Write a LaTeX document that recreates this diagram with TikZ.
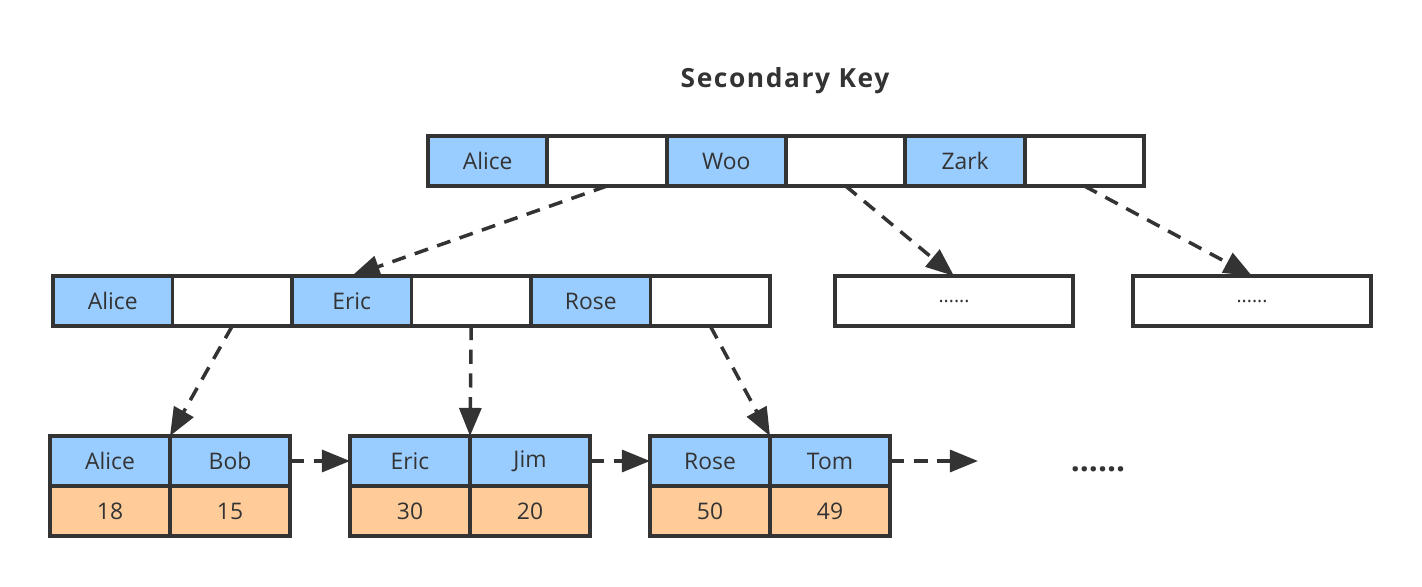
\documentclass[tikz,border=0pt]{standalone}
\usepackage{fontspec}
\setmainfont{Open Sans}
\usetikzlibrary{arrows.meta,positioning}
\definecolor{line}{HTML}{333333}
\definecolor{keyblue}{HTML}{99CCFF}
\definecolor{valorange}{HTML}{FFCC99}

\begin{document}
\begin{tikzpicture}[
	cell/.style={draw=line, line width=2.2pt, minimum width=2.39cm, minimum height=1cm, inner sep=0pt, outer sep=0pt, text=line, font=\fontsize{13}{15}\selectfont},
	link/.style={draw=line, line width=2pt, dash pattern=on 8pt off 5.5pt, -{Triangle[length=16pt,width=12.5pt]}}
]
	\useasboundingbox (0,0) rectangle (28.44,11.72);
	\node[text=line, font=\fontsize{15}{18}\selectfont\bfseries\addfontfeature{LetterSpace=6}] (title) at (15.7,10.1) {Secondary Key};
	% root
	\foreach \n/\t/\f [count=\i from 0] in {t1/Alice/keyblue, t2//white, t3/Woo/keyblue, t4//white, t5/Zark/keyblue, t6//white}
		\node[cell, fill=\f, minimum width=2.387cm] (\n) at (9.753+2.387*\i, 8.5) {\t};
	% inner level
	\foreach \n/\t/\f [count=\i from 0] in {m1/Alice/keyblue, m2//white, m3/Eric/keyblue, m4//white, m5/Rose/keyblue, m6//white}
		\node[cell, fill=\f] (\n) at (2.255+2.39*\i, 5.7) {\t};
	\node[cell, minimum width=4.76cm, font=\fontsize{11}{13}\selectfont] (d1) at (19.08,5.7) {......};
	\node[cell, minimum width=4.76cm, font=\fontsize{11}{13}\selectfont] (d2) at (25.04,5.7) {......};
	% leaves
	\foreach \k/\a/\b/\p/\q [count=\i from 0] in {1/Alice/Bob/18/15, 2/Eric/Jim/30/20, 3/Rose/Tom/50/49} {
		\node[cell, fill=keyblue, minimum width=2.4cm] (ka\k) at (2.2+6*\i, 2.5) {\a};
		\node[cell, fill=keyblue, minimum width=2.4cm] (kb\k) at (4.6+6*\i, 2.5) {\b};
		\node[cell, fill=valorange, minimum width=2.4cm] (va\k) at (2.2+6*\i, 1.5) {\p};
		\node[cell, fill=valorange, minimum width=2.4cm] (vb\k) at (4.6+6*\i, 1.5) {\q};
	}
	\coordinate (tail) at (19.56,2.5);
	\node[text=line, font=\fontsize{18}{20}\selectfont\bfseries] (more) at (21.96,2.33) {......};

	\draw[link] (t2.south) -- (m3.north);
	\draw[link] (t4.south) -- (d1.north);
	\draw[link] (t6.south) -- (d2.north);
	\draw[link] (m2.south) -- (ka1.north east);
	\draw[link] (m4.south) -- (ka2.north east);
	\draw[link] (m6.south) -- (ka3.north east);
	\draw[link] (kb1.east) -- (ka2.west);
	\draw[link] (kb2.east) -- (ka3.west);
	\draw[link] (kb3.east) -- (tail);
\end{tikzpicture}
\end{document}
